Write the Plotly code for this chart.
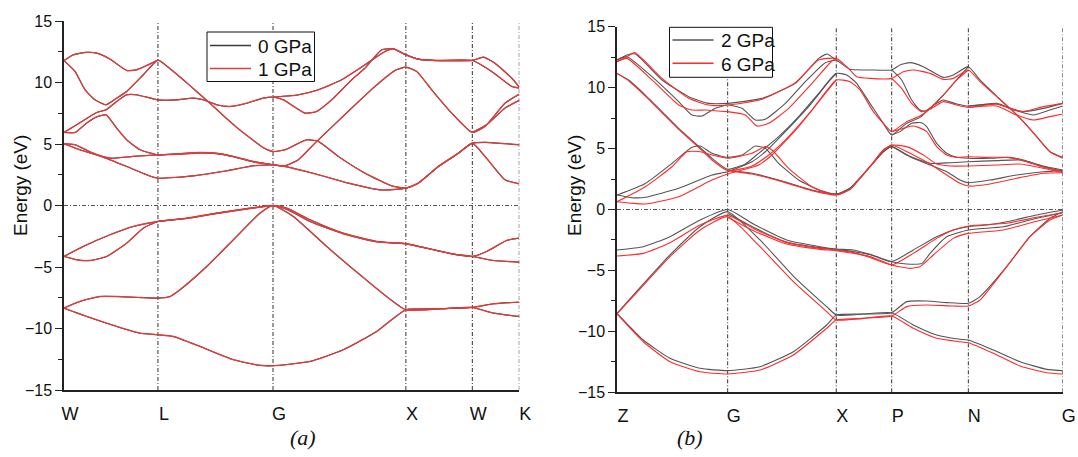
import plotly.graph_objects as go

# ---------------------------------------------------------------------------
# k-paths: cumulative path length of each high-symmetry point and its label
# ---------------------------------------------------------------------------
PATH_A_POS = [0.0, 0.7071, 1.5731, 2.5731, 3.0731, 3.4267]
PATH_A_LABELS = ["W", "L", "G", "X", "W", "K"]

PATH_B_POS = [0.0, 0.2483, 0.4920, 0.6163, 0.7883, 1.0]
PATH_B_LABELS = ["Z", "G", "X", "P", "N", "G"]

ENERGY_TICKS = [-15, -10, -5, 0, 5, 10, 15]
ENERGY_MINOR = [-12.5, -7.5, -2.5, 2.5, 7.5, 12.5]

# ---------------------------------------------------------------------------
# Band energies (eV) as (k, E) pairs, panel (a)
# ---------------------------------------------------------------------------
BANDS_1GPA = [
    [(0, 11.78), (0.07, 12.25), (0.1656, 12.45), (0.2461, 12.39), (0.3462, 11.90),
     (0.4717, 10.98), (0.5471, 11.03), (0.7071, 11.82)],
    [(0, 11.78), (0.0828, 10.90), (0.1581, 9.41), (0.2333, 8.59), (0.3161, 8.19),
     (0.3964, 8.73), (0.4717, 9.27), (0.5971, 10.63), (0.7071, 11.82),
     (0.80, 11.1), (0.90, 10.2), (1.00, 9.25), (1.10, 8.3), (1.20, 7.3), (1.30, 6.35),
     (1.40, 5.5), (1.50, 4.7), (1.5731, 4.39),
     (1.6633, 4.53), (1.8264, 5.34), (1.9142, 5.21), (2.0647, 3.99), (2.2654, 2.63),
     (2.4661, 1.60), (2.5731, 1.41),
     (2.6668, 1.82), (2.8174, 3.17), (2.9679, 4.25), (3.0731, 5.07),
     (3.1686, 5.13), (3.4267, 4.94)],
    [(0, 5.94), (0.0953, 6.56), (0.2459, 7.56), (0.3161, 7.78), (0.3964, 8.46),
     (0.4717, 9.00), (0.5469, 9.00), (0.7071, 8.59),
     (0.8480, 8.59), (0.9734, 8.73), (1.0487, 8.59), (1.1490, 8.19), (1.2494, 8.05),
     (1.3748, 8.32), (1.5003, 8.73), (1.5731, 8.81),
     (1.6508, 8.59), (1.8139, 7.51), (1.9017, 7.65), (2.0146, 8.59), (2.1651, 10.22),
     (2.2654, 11.17), (2.3909, 12.66), (2.4787, 12.74), (2.5731, 12.25),
     (2.6668, 11.90), (2.7923, 11.79), (3.0731, 11.79),
     (3.1561, 12.06), (3.2439, 11.57), (3.3693, 10.36), (3.4267, 9.62)],
    [(1.5731, 8.81), (1.7637, 9.00), (1.9142, 9.41), (2.0898, 10.22), (2.2654, 11.44),
     (2.4160, 12.52), (2.4787, 12.74), (2.5731, 12.25),
     (2.6668, 11.90), (2.7923, 11.79), (3.0731, 11.79),
     (3.2188, 10.90), (3.3693, 9.68), (3.4267, 9.55)],
    [(0, 5.94), (0.0828, 5.94), (0.1706, 6.70), (0.2408, 7.18), (0.3161, 7.37),
     (0.3964, 6.29), (0.4717, 5.34), (0.5720, 4.53), (0.7071, 4.12),
     (0.8480, 4.20), (1.0236, 4.31), (1.1490, 4.25), (1.2745, 3.99), (1.4250, 3.58),
     (1.5731, 3.31),
     (1.6633, 3.23), (1.7637, 3.72), (1.8891, 5.07), (2.0146, 6.37), (2.1651, 7.92),
     (2.3407, 9.68), (2.4912, 10.98), (2.5731, 11.25),
     (2.6543, 10.90), (2.7672, 9.41), (2.9177, 7.51), (3.0731, 5.94),
     (3.1686, 6.43), (3.3191, 8.32), (3.4267, 9.05)],
    [(3.0731, 5.94), (3.1812, 6.56), (3.3191, 7.92), (3.4267, 8.55)],
    [(0, 5.02), (0.0828, 4.94), (0.2208, 4.25), (0.3462, 3.85), (0.5218, 3.99),
     (0.7071, 4.12),
     (0.8480, 4.16), (1.0236, 4.27), (1.1490, 4.22), (1.2745, 3.97), (1.4250, 3.55),
     (1.5731, 3.31),
     (1.6633, 3.17), (1.8891, 2.58), (2.1400, 1.82), (2.3909, 1.26), (2.5731, 1.41),
     (2.6668, 1.82), (2.8174, 3.17), (2.9679, 4.25), (3.0731, 5.07),
     (3.1686, 3.99), (3.3191, 2.09), (3.4267, 1.76)],
    [(0, 5.02), (0.1204, 4.53), (0.2960, 3.93), (0.4717, 3.17), (0.6222, 2.50),
     (0.7071, 2.22), (0.9734, 2.41), (1.2243, 2.82), (1.4250, 3.23), (1.5731, 3.31)],
    # valence bands
    [(0, -4.14), (0.1455, -3.33), (0.3462, -2.38), (0.5218, -1.70), (0.7071, -1.30),
     (0.9232, -1.03), (1.1490, -0.62), (1.3999, -0.21), (1.5731, 0.0),
     (1.6759, -0.21), (1.8515, -1.16), (2.1024, -2.25), (2.3533, -2.92), (2.5731, -3.11),
     (2.7296, -3.47), (2.9303, -3.95), (3.0731, -4.14),
     (3.1812, -3.74), (3.3317, -2.84), (3.4267, -2.65)],
    [(0, -4.14), (0.0953, -4.41), (0.1957, -4.47), (0.3211, -4.14), (0.4717, -3.06),
     (0.5971, -1.84), (0.7071, -1.30), (0.9232, -1.05), (1.1490, -0.65), (1.3999, -0.25),
     (1.5731, -0.02),
     (1.6759, -0.30), (1.8515, -1.30), (2.1024, -2.30), (2.3533, -2.95), (2.5731, -3.11),
     (2.7296, -3.47), (2.9303, -3.95), (3.0731, -4.14),
     (3.2314, -4.47), (3.4267, -4.60)],
    [(0, -8.34), (0.1204, -7.80), (0.2710, -7.40), (0.3964, -7.40), (0.5720, -7.48),
     (0.7071, -7.53), (0.7978, -7.40), (0.8731, -6.85), (1.0738, -4.96), (1.2745, -2.79),
     (1.4752, -0.62), (1.5731, 0.0),
     (1.7261, -0.89), (1.9770, -3.33), (2.2278, -5.63), (2.5731, -8.48),
     (2.8300, -8.40), (3.0731, -8.29), (3.2314, -7.99), (3.4267, -7.86)],
    [(0, -8.34), (0.1706, -9.02), (0.3964, -9.83), (0.5720, -10.38), (0.7071, -10.51),
     (0.8229, -10.65), (1.0236, -11.46), (1.2745, -12.54), (1.4752, -13.00),
     (1.5731, -13.03),
     (1.8515, -12.68), (2.1024, -11.73), (2.3533, -10.24), (2.5731, -8.48),
     (2.8300, -8.40), (3.0731, -8.29), (3.2314, -8.75), (3.4267, -9.02)],
]

# At 0 GPa the bands coincide with the 1 GPa ones to plotting accuracy
BANDS_0GPA = [list(band) for band in BANDS_1GPA]

# ---------------------------------------------------------------------------
# Band energies (eV) as (k, E) pairs, panel (b)
# ---------------------------------------------------------------------------
BANDS_2GPA = [
    [(0, 12.27), (0.0224, 12.68), (0.0411, 12.76), (0.1010, 10.63), (0.1608, 9.26),
     (0.2057, 8.71), (0.2483, 8.71), (0.3253, 9.12), (0.4001, 10.35), (0.4525, 12.40),
     (0.4712, 12.76), (0.4920, 12.27),
     (0.5228, 11.50), (0.5676, 11.45), (0.6163, 11.45), (0.6350, 11.86), (0.6574, 12.05),
     (0.6873, 11.72), (0.7322, 10.84), (0.7546, 11.04), (0.7883, 11.72),
     (0.8144, 10.63), (0.8518, 9.31), (0.8817, 8.30), (0.9117, 8.03), (0.9565, 8.30),
     (1.0, 8.71)],
    [(0, 12.27), (0.0224, 12.54), (0.0785, 10.90), (0.1384, 8.85), (0.1683, 7.75),
     (0.1907, 7.67), (0.2206, 8.30), (0.2483, 8.57), (0.2805, 8.30), (0.3104, 7.34),
     (0.3328, 7.40), (0.3777, 8.71), (0.4225, 10.49), (0.4674, 12.05), (0.4920, 12.27)],
    [(0, 11.17), (0.0262, 10.63), (0.0636, 9.39), (0.1010, 8.03), (0.1384, 6.66),
     (0.1758, 5.43), (0.2131, 4.20), (0.2483, 3.30), (0.2879, 3.73), (0.3178, 4.61),
     (0.3627, 5.98), (0.4076, 7.62), (0.4525, 9.53), (0.4920, 11.17),
     (0.5153, 11.04), (0.5377, 10.35), (0.5676, 8.71), (0.5976, 7.07), (0.6163, 6.11),
     (0.6499, 7.07), (0.6798, 7.56), (0.7023, 8.30), (0.7322, 9.39), (0.7621, 10.63),
     (0.7883, 11.72)],
    [(0, 1.19), (0.0337, 0.97), (0.0636, 1.00), (0.1384, 1.74), (0.2131, 2.83),
     (0.2483, 3.10), (0.3029, 3.92), (0.3328, 4.74), (0.3777, 6.39), (0.4300, 8.44),
     (0.4749, 10.49), (0.4920, 11.17)],
    [(0, 1.19), (0.0636, 2.14), (0.1234, 3.79), (0.1683, 5.10), (0.1870, 5.21),
     (0.2131, 4.61), (0.2483, 4.28), (0.2805, 4.47), (0.3104, 5.21), (0.3328, 5.02),
     (0.3627, 3.79), (0.4076, 2.42), (0.4525, 1.60), (0.4920, 1.27),
     (0.5228, 1.74), (0.5676, 3.51), (0.5976, 4.74), (0.6163, 5.16),
     (0.6499, 4.47), (0.7023, 3.79), (0.7471, 3.84), (0.7883, 3.92),
     (0.8518, 4.01), (0.9042, 4.06), (0.9565, 3.51), (1.0, 3.16)],
    [(0.2483, 3.24), (0.3029, 2.97), (0.3627, 2.42), (0.4375, 1.60), (0.4920, 1.27),
     (0.5228, 1.74), (0.5676, 3.51), (0.5976, 4.74), (0.6163, 5.16),
     (0.6574, 4.33), (0.7023, 3.65), (0.7397, 3.10), (0.7696, 2.42), (0.7883, 2.20),
     (0.8369, 2.42), (0.8967, 2.83), (0.9565, 3.10), (1.0, 3.19)],
    [(0.6163, 11.45), (0.6387, 10.63), (0.6611, 8.98), (0.6798, 8.16), (0.6910, 8.08),
     (0.7172, 8.71), (0.7322, 8.98), (0.7621, 8.66), (0.7883, 8.49),
     (0.8144, 8.57), (0.8518, 8.71), (0.8817, 8.30), (0.9117, 7.21), (0.9416, 5.98),
     (0.9715, 4.74), (1.0, 4.28)],
    [(0.6163, 6.11), (0.6350, 6.39), (0.6611, 7.07), (0.6836, 7.12), (0.6948, 6.80),
     (0.7172, 5.43), (0.7397, 4.61), (0.7621, 4.28), (0.7883, 4.20),
     (0.8369, 4.20), (0.8817, 4.28), (0.9117, 4.06), (0.9565, 3.57), (1.0, 3.24)],
    [(0.7883, 8.49), (0.8518, 8.66), (0.8967, 8.11), (0.9341, 7.75), (0.9715, 8.16),
     (1.0, 8.49)],
    # valence bands
    [(0, -3.32), (0.0591, -3.05), (0.1189, -2.23), (0.1862, -0.86), (0.2483, 0.0),
     (0.3059, -1.19), (0.3807, -2.50), (0.4555, -3.05), (0.4920, -3.24),
     (0.5303, -3.32), (0.5676, -3.68), (0.6163, -4.28), (0.6649, -3.32), (0.7172, -2.23),
     (0.7546, -1.68), (0.7883, -1.41), (0.8294, -1.27), (0.8743, -1.00), (0.9416, -0.45),
     (1.0, -0.04)],
    [(0.2483, -0.31), (0.3059, -1.46), (0.3807, -2.67), (0.4555, -3.13), (0.4920, -3.27),
     (0.5676, -3.70), (0.6163, -4.28), (0.6499, -4.47), (0.6844, -4.42), (0.7023, -3.60),
     (0.7397, -2.23), (0.7883, -1.68), (0.8668, -1.41), (0.9416, -0.72), (1.0, -0.26)],
    [(0, -8.52), (0.0591, -6.11), (0.1189, -3.73), (0.1862, -1.41), (0.2483, -0.18),
     (0.3208, -2.50), (0.3956, -5.46), (0.4704, -7.97), (0.4920, -8.66),
     (0.5527, -8.58), (0.6163, -8.47), (0.6499, -7.56), (0.6948, -7.51), (0.7397, -7.64),
     (0.7883, -7.70), (0.8144, -7.15), (0.8743, -4.69), (0.9266, -2.23), (0.9715, -0.72),
     (1.0, -0.18)],
    [(0, -8.52), (0.0591, -10.71), (0.1189, -12.21), (0.1862, -13.03), (0.2483, -13.22),
     (0.3208, -12.90), (0.3956, -11.67), (0.4704, -9.48), (0.4920, -8.66),
     (0.5527, -8.58), (0.6163, -8.47), (0.6649, -9.48), (0.7172, -10.30), (0.7696, -10.65),
     (0.7883, -10.71), (0.8444, -11.53), (0.9042, -12.49), (0.9640, -13.12),
     (1.0, -13.22)],
]

BANDS_6GPA = [
    [(0, 12.13), (0.0224, 12.54), (0.0396, 12.87), (0.1010, 10.76), (0.1608, 9.12),
     (0.2057, 8.57), (0.2483, 8.57), (0.3253, 9.04), (0.4001, 10.41), (0.4525, 12.27),
     (0.4920, 12.40),
     (0.5153, 11.72), (0.5377, 10.90), (0.5676, 10.76), (0.6163, 10.76), (0.6424, 11.31),
     (0.6649, 11.45), (0.7023, 11.17), (0.7322, 10.68), (0.7546, 10.76), (0.7883, 11.45),
     (0.8144, 10.49), (0.8518, 9.26), (0.8817, 8.30), (0.9117, 7.21), (0.9416, 5.98),
     (0.9715, 4.74), (1.0, 4.20)],
    [(0, 12.13), (0.0224, 12.40), (0.0785, 10.63), (0.1384, 8.57), (0.1683, 8.16),
     (0.1982, 8.16), (0.2281, 8.08), (0.2483, 8.03), (0.2879, 7.75), (0.3141, 6.85),
     (0.3403, 7.07), (0.3852, 8.30), (0.4375, 10.35), (0.4824, 12.21), (0.4920, 12.40)],
    [(0, 11.17), (0.0262, 10.57), (0.0636, 9.31), (0.1010, 7.94), (0.1384, 6.58),
     (0.1758, 5.35), (0.2131, 4.06), (0.2483, 3.19), (0.3029, 3.57), (0.3403, 4.47),
     (0.3777, 5.70), (0.4375, 8.16), (0.4920, 10.63),
     (0.5228, 10.49), (0.5452, 9.81), (0.5751, 8.03), (0.5976, 7.07), (0.6163, 6.39),
     (0.6499, 7.21), (0.6798, 7.67), (0.7023, 8.30), (0.7322, 9.39), (0.7621, 10.63),
     (0.7883, 11.45)],
    [(0, 0.64), (0.0337, 0.51), (0.0636, 0.45), (0.1384, 1.05), (0.2131, 2.42),
     (0.2483, 2.91), (0.3178, 3.65), (0.3478, 4.47), (0.4076, 6.80), (0.4674, 9.53),
     (0.4920, 10.63)],
    [(0, 0.64), (0.0636, 1.87), (0.1234, 3.51), (0.1571, 4.74), (0.1870, 4.74),
     (0.2131, 4.47), (0.2483, 4.20), (0.3029, 4.61), (0.3328, 5.16), (0.3478, 4.88),
     (0.3852, 3.38), (0.4375, 1.87), (0.4920, 1.19),
     (0.5228, 1.65), (0.5676, 3.51), (0.5976, 4.88), (0.6163, 5.29),
     (0.6499, 5.16), (0.6873, 4.47), (0.7172, 3.73), (0.7471, 3.57), (0.7883, 3.57),
     (0.8518, 3.65), (0.9042, 3.73), (0.9565, 3.38), (1.0, 3.02)],
    [(0.2483, 3.19), (0.3029, 2.91), (0.3627, 2.37), (0.4375, 1.55), (0.4920, 1.19),
     (0.5228, 1.65), (0.5676, 3.51), (0.5976, 4.88), (0.6163, 5.29),
     (0.6574, 4.61), (0.7023, 3.73), (0.7397, 2.83), (0.7696, 2.15), (0.7883, 1.93),
     (0.8369, 2.09), (0.8967, 2.56), (0.9565, 2.97), (1.0, 3.02)],
    [(0.6163, 10.76), (0.6387, 9.94), (0.6611, 8.71), (0.6836, 8.03), (0.7023, 8.22),
     (0.7322, 8.85), (0.7621, 8.57), (0.7883, 8.38),
     (0.8518, 8.66), (0.8817, 8.30), (0.9117, 8.03), (0.9565, 8.44), (1.0, 8.71)],
    [(0.6163, 6.39), (0.6350, 6.58), (0.6611, 6.85), (0.6761, 6.74), (0.6948, 6.39),
     (0.7172, 5.16), (0.7397, 4.47), (0.7621, 4.28), (0.7883, 4.33),
     (0.8294, 4.28), (0.8743, 4.28), (0.9117, 4.01), (0.9565, 3.46), (1.0, 3.10)],
    [(0.7883, 8.38), (0.8518, 8.49), (0.8967, 7.75), (0.9341, 7.34), (0.9715, 7.62),
     (1.0, 7.84)],
    # valence bands
    [(0, -3.82), (0.0591, -3.60), (0.1189, -2.72), (0.1862, -1.27), (0.2483, -0.48),
     (0.3059, -1.55), (0.3807, -2.72), (0.4555, -3.19), (0.4920, -3.32),
     (0.5303, -3.54), (0.5676, -3.93), (0.6163, -4.55), (0.6649, -3.60), (0.7172, -2.37),
     (0.7546, -1.68), (0.7883, -1.35), (0.8743, -1.13), (0.9416, -0.64), (1.0, -0.26)],
    [(0.2483, -0.64), (0.3059, -1.74), (0.3807, -2.83), (0.4555, -3.27), (0.4920, -3.38),
     (0.5676, -3.85), (0.6163, -4.55), (0.6574, -4.83), (0.6798, -4.69), (0.7097, -3.73),
     (0.7546, -2.37), (0.7883, -1.96), (0.8668, -1.68), (0.9416, -0.96), (1.0, -0.45)],
    [(0, -8.57), (0.0591, -6.22), (0.1189, -3.87), (0.1862, -1.68), (0.2483, -0.59),
     (0.3208, -3.05), (0.3956, -5.92), (0.4704, -8.38), (0.4920, -9.07),
     (0.5527, -8.93), (0.6163, -8.74), (0.6499, -7.97), (0.6948, -7.84), (0.7546, -7.92),
     (0.7883, -7.92), (0.8144, -7.43), (0.8743, -4.69), (0.9266, -2.23), (0.9715, -0.86),
     (1.0, -0.45)],
    [(0, -8.57), (0.0591, -10.85), (0.1189, -12.49), (0.1862, -13.31), (0.2483, -13.50),
     (0.3208, -13.17), (0.3956, -11.94), (0.4704, -9.75), (0.4920, -9.07),
     (0.5527, -8.93), (0.6163, -8.74), (0.6649, -9.75), (0.7172, -10.57), (0.7696, -10.85),
     (0.7883, -10.93), (0.8444, -11.80), (0.9042, -12.84), (0.9640, -13.39),
     (1.0, -13.50)],
]

FONT = "Liberation Sans, Arial, sans-serif"
SERIF = "Liberation Serif, Times New Roman, serif"
DASHDOT = "4px,2px,1px,2px"

# series styling: (name, colour, width)
STYLE_0GPA = ("0 GPa", "#3a3a3a", 1.1)
STYLE_1GPA = ("1 GPa", "#e03c3c", 1.3)
STYLE_2GPA = ("2 GPa", "#555555", 1.1)
STYLE_6GPA = ("6 GPa", "#ff2a2a", 1.1)


def add_series(fig, bands, style, xaxis, yaxis):
    name, color, width = style
    for band in bands:
        fig.add_trace(go.Scatter(
            x=[p[0] for p in band], y=[p[1] for p in band],
            mode="lines", name=name, legendgroup=name, showlegend=False,
            line=dict(color=color, width=width, shape="spline", smoothing=0.5),
            xaxis=xaxis, yaxis=yaxis, hoverinfo="skip",
        ))


fig = go.Figure()
add_series(fig, BANDS_0GPA, STYLE_0GPA, "x", "y")
add_series(fig, BANDS_1GPA, STYLE_1GPA, "x", "y")
add_series(fig, BANDS_2GPA, STYLE_2GPA, "x2", "y2")
add_series(fig, BANDS_6GPA, STYLE_6GPA, "x2", "y2")

W, H = 1078, 457

# dash-dot guides at the high-symmetry points and at the Fermi level
shapes = []
for xref, yref, pos in (("x", "y", PATH_A_POS), ("x2", "y2", PATH_B_POS)):
    for k in pos[1:]:
        shapes.append(dict(type="line", xref=xref, yref=yref, x0=k, x1=k, y0=-15, y1=15,
                           line=dict(color="#333333", width=1, dash=DASHDOT), layer="below"))
    shapes.append(dict(type="line", xref=xref, yref=yref, x0=pos[0], x1=pos[-1], y0=0, y1=0,
                       line=dict(color="#555555", width=1, dash=DASHDOT), layer="below"))

annotations = []


def px(x):
    return x / W


def py(y):
    return 1 - y / H


def text_note(text, x, y, size, family=FONT, angle=0, xanchor="center"):
    return dict(text=text, x=px(x), y=py(y), xref="paper", yref="paper",
                showarrow=False, textangle=angle, xanchor=xanchor, yanchor="middle",
                font=dict(family=family, size=size, color="#111"))


def boxed_key(left, top, right, bottom, rows):
    """Framed key: a sample line and a label for each series."""
    shapes.append(dict(type="rect", xref="paper", yref="paper",
                       x0=px(left), x1=px(right), y0=py(bottom), y1=py(top),
                       line=dict(color="#111111", width=1), fillcolor="white", layer="above"))
    for (name, color, width), y in rows:
        shapes.append(dict(type="line", xref="paper", yref="paper",
                           x0=px(left + 3), x1=px(left + 44), y0=py(y), y1=py(y),
                           line=dict(color=color, width=width + 0.3), layer="above"))
        annotations.append(text_note(name, left + 49, y + 1, 19, xanchor="left"))


boxed_key(207, 32, 314.5, 81.5, [(STYLE_0GPA, 45.5), (STYLE_1GPA, 68.5)])
boxed_key(669.5, 27.3, 772.5, 77.3, [(STYLE_2GPA, 40), (STYLE_6GPA, 63.3)])

annotations += [
    text_note("Energy (eV)", 20, 186, 19, angle=-90),
    text_note("Energy (eV)", 574, 186, 19, angle=-90),
    text_note("<i>(a)</i>", 303, 437, 22, family=SERIF),
    text_note("<i>(b)</i>", 690, 437, 22, family=SERIF),
]


def xdom(a, b):
    return [a / W, b / W]


def ydom(top, bottom):
    return [1 - bottom / H, 1 - top / H]


common_x = dict(showline=True, linecolor="#222222", linewidth=2, showgrid=False,
                zeroline=False, ticks="", automargin=False,
                tickfont=dict(family=FONT, size=18, color="#111"),
                ticklabelstandoff=6, ticklabelshift=6)
common_y = dict(range=[-15, 15], tickvals=ENERGY_TICKS, showline=True, linecolor="#222222",
                linewidth=1.5, showgrid=False, zeroline=False, ticks="outside", ticklen=7,
                tickwidth=1.2, tickcolor="#222222", automargin=False,
                minor=dict(tickvals=ENERGY_MINOR, ticks="outside", ticklen=4,
                           tickwidth=1.2, tickcolor="#222222"),
                tickfont=dict(family=FONT, size=16, color="#111"))

fig.update_layout(
    width=W, height=H, margin=dict(l=0, r=0, t=0, b=0, autoexpand=False),
    paper_bgcolor="white", plot_bgcolor="white",
    xaxis=dict(domain=xdom(64, 519.3), range=[PATH_A_POS[0], PATH_A_POS[-1]],
               tickvals=PATH_A_POS, ticktext=PATH_A_LABELS, anchor="y", **common_x),
    yaxis=dict(domain=ydom(21, 390), anchor="x", **common_y),
    xaxis2=dict(domain=xdom(617, 1062.7), range=[PATH_B_POS[0], PATH_B_POS[-1]],
                tickvals=PATH_B_POS, ticktext=PATH_B_LABELS, anchor="y2", **common_x),
    yaxis2=dict(domain=ydom(26.7, 392.3), anchor="x2", **common_y),
    shapes=shapes,
    annotations=annotations,
    showlegend=False,
)

fig.write_html("out.html")
